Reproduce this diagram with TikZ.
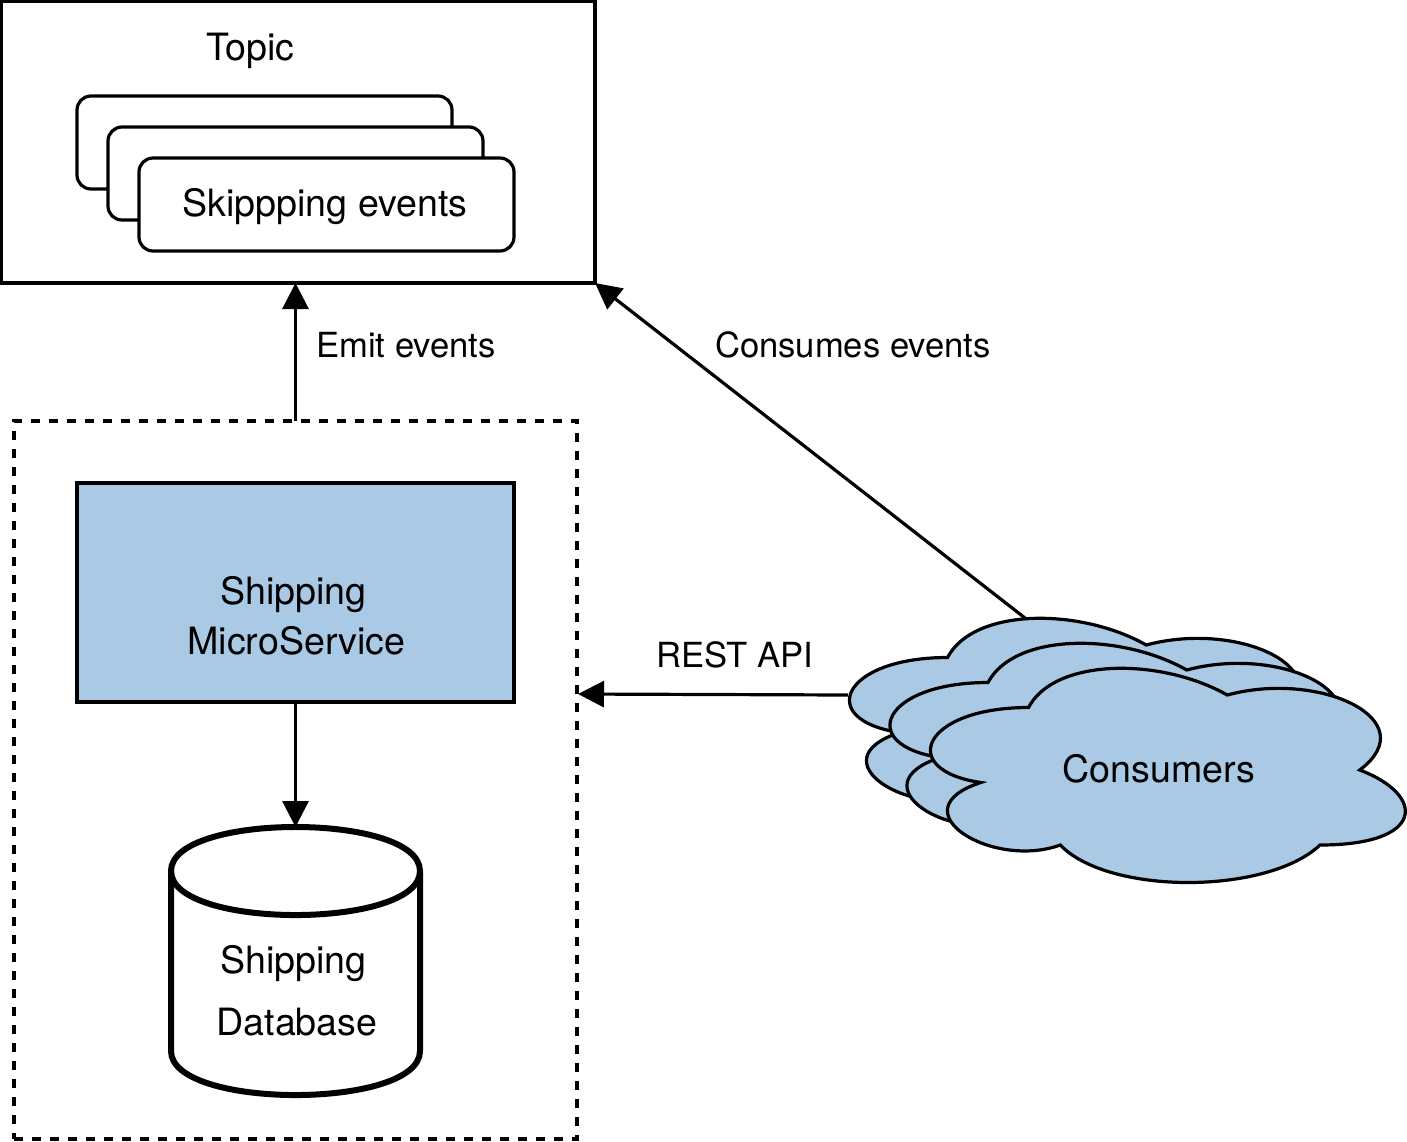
\documentclass[tikz,border=0pt]{standalone}
\usepackage{fontspec}
\setmainfont{TeX Gyre Heros}
\usetikzlibrary{arrows.meta}
\definecolor{svcblue}{HTML}{A9C9E5}
\newcommand{\cloudoutline}{(.25,.25) .. controls (.05,.25) and (0,.5) .. (.16,.55)
  .. controls (0,.66) and (.18,.9) .. (.31,.8)
  .. controls (.4,1) and (.7,1) .. (.8,.8)
  .. controls (1,.8) and (1,.6) .. (.875,.5)
  .. controls (1,.3) and (.8,.1) .. (.625,.2)
  .. controls (.5,.05) and (.3,.05) .. (.25,.25) -- cycle}
\tikzset{
  outline/.style={draw=black,line width=3.2pt,outer sep=0pt},
  topicbox/.style={outline,anchor=north west,inner sep=0pt,minimum width=594pt,minimum height=282pt},
  cardbox/.style={outline,fill=white,rounded corners=14pt,anchor=north west,inner sep=0pt,minimum width=375pt,minimum height=93pt},
  groupbox/.style={draw=black,outer sep=0pt,line width=3.2pt,dash pattern=on 9pt off 9pt,anchor=north west,inner sep=0pt,minimum width=563pt,minimum height=718pt},
  servicebox/.style={outline,fill=svcblue,anchor=north west,inner sep=0pt,minimum width=437pt,minimum height=219pt},
  hidden/.style={inner sep=0pt,outer sep=0pt,anchor=north west,minimum width=249pt,minimum height=268pt},
  txt/.style={anchor=base,inner sep=0pt,font=\fontsize{37.6}{37.6}\selectfont},
  lbl/.style={anchor=base,inner sep=0pt,font=\fontsize{34.6}{34.6}\selectfont},
  flow/.style={draw=black,line width=3.2pt,-{Triangle[length=26pt,width=26pt]}},
}
\begin{document}
\begin{tikzpicture}[x=1pt,y=-1pt]
\useasboundingbox (0,0) rectangle (1407,1141);
% containers
\node[topicbox] (topic) at (1,1) {};
\node[cardbox] (card1) at (77,96) {};
\node[cardbox] (card2) at (108,127) {};
\node[cardbox] (card3) at (139,158) {};
\node[groupbox] (group) at (14,421) {};
\node[servicebox] (service) at (77,483) {};
\node[hidden] (db) at (171,827) {};
% cylinder
\begin{scope}[shift={(171,827)}]
  \draw[line width=6pt,fill=white] (0,44) .. controls (0,-14.7) and (249,-14.7) .. (249,44)
    -- (249,224) .. controls (249,282.7) and (0,282.7) .. (0,224) -- cycle;
  \draw[line width=6pt] (0,44) .. controls (0,102.7) and (249,102.7) .. (249,44);
\end{scope}
% connector ends on the clouds
\coordinate (backtop) at (1025,618);
\coordinate (backleft) at (848,695);
\coordinate (groupin) at (578,694);
% connectors
\draw[flow] (group.north) -- (group.north |- topic.south);
\draw[flow] (backtop) -- (topic.south east);
\draw[flow] (backleft) -- (groupin);
\draw[flow] (service.south) -- (db.north);
% clouds
\foreach \cx/\cy in {815/595,855.5/620,896/645}{
  \begin{scope}[shift={(\cx,\cy)},x=530pt,y=-250pt]
    \draw[outline,fill=svcblue] \cloudoutline;
  \end{scope}
}
% texts
\node[txt] (ttopic) at (250.5,60) {Topic};
\node[txt] (tskip) at (325,216) {Skippping events};
\node[lbl] (temit) at (406,357) {Emit events};
\node[lbl] (tcons) at (853,357) {Consumes events};
\node[lbl] (trest) at (734.5,667) {REST API};
\node[txt] (tship) at (293.5,604) {Shipping};
\node[txt] (tmicro) at (296.5,654) {MicroService};
\node[txt] (tconsumers) at (1159,782) {Consumers};
\node[txt] (tdb1) at (293.5,973) {Shipping};
\node[txt] (tdb2) at (297,1035) {Database};
\end{tikzpicture}
\end{document}
